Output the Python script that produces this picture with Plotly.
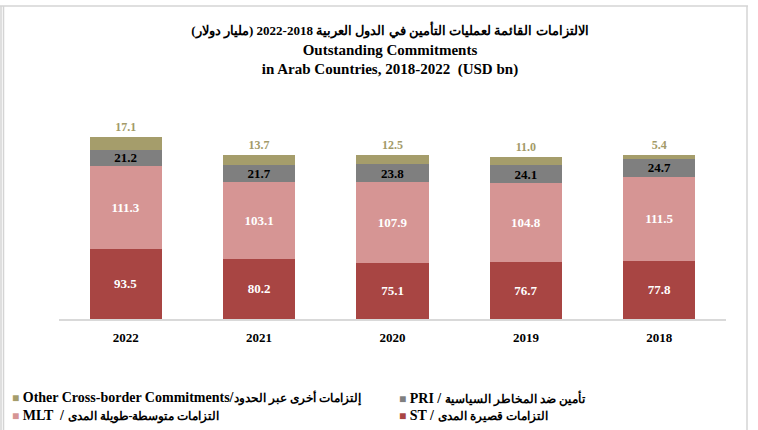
import plotly.graph_objects as go

years = ["2022", "2021", "2020", "2019", "2018"]
st = [93.5, 80.2, 75.1, 76.7, 77.8]
mlt = [111.3, 103.1, 107.9, 104.8, 111.5]
pri = [21.2, 21.7, 23.8, 24.1, 24.7]
other = [17.1, 13.7, 12.5, 11.0, 5.4]

# (latin part, arabic part) for each series
labels = {
    "st": ("ST / ", "التزامات قصيرة المدى"),
    "mlt": ("MLT  / ", "التزامات متوسطة-طويلة المدى"),
    "pri": ("PRI / ", "تأمين ضد المخاطر السياسية"),
    "other": ("Other Cross-border Commitments/", "إلتزامات أخرى عبر الحدود"),
}
colors = {"st": "#A84543", "mlt": "#D69594", "pri": "#7F7F7F", "other": "#A59D6B"}

SERIF = "Liberation Serif, Times New Roman, serif"
W, H = 758, 430
L, R, T, B = 59, 32, 100, 111
PW, PH = W - L - R, H - T - B
PX_PER_UNIT = 0.749


def px_x(px):
    return (px - L) / PW


def px_y(py):
    return (H - B - py) / PH


def ar(text, size):
    return f"<span style='font-size:{size}px'>{text}</span>"


fig = go.Figure()

series = [("st", st, "white"), ("mlt", mlt, "white"), ("pri", pri, "black")]
for key, vals, tcolor in series:
    fig.add_trace(go.Bar(
        x=years, y=vals, name=labels[key][0] + labels[key][1],
        marker=dict(color=colors[key], line=dict(width=0)),
        text=[f"{v:.1f}" for v in vals],
        textposition="inside", insidetextanchor="middle",
        constraintext="none",
        textfont=dict(family=SERIF, size=13, color=tcolor, weight="bold"),
    ))

fig.add_trace(go.Bar(
    x=years, y=other, name=labels["other"][0] + labels["other"][1],
    marker=dict(color=colors["other"], line=dict(width=0)),
    text=[f"{v:.1f}" for v in other],
    textposition="outside", constraintext="none", cliponaxis=False,
    textfont=dict(family=SERIF, size=12, color="#A39A68", weight="bold"),
))

# legend drawn as text rows, two columns
legend_pos = [("other", 10, 398), ("pri", 397, 398), ("mlt", 10, 416), ("st", 397, 416)]
for key, lx, ly in legend_pos:
    latin, arabic = labels[key]
    fig.add_annotation(
        xref="paper", yref="paper", x=px_x(lx), y=px_y(ly),
        xanchor="left", yanchor="middle", showarrow=False,
        text=f"<span style='color:{colors[key]};font-size:12px'>■</span> "
             f"{latin}{ar(arabic, 12)}",
        font=dict(family=SERIF, size=14, color="black", weight="bold"),
    )

# frame around the chart
frame = dict(type="line", xref="paper", yref="paper",
             line=dict(color="#D4D4D4", width=1.5))
fig.add_shape(**frame, x0=px_x(0), x1=px_x(748), y0=px_y(6), y1=px_y(6))
fig.add_shape(**frame, x0=px_x(1), x1=px_x(1), y0=px_y(6), y1=px_y(432))
fig.add_shape(**frame, x0=px_x(3.5), x1=px_x(3.5), y0=px_y(6), y1=px_y(432))
fig.add_shape(**frame, x0=px_x(747), x1=px_x(747), y0=px_y(6), y1=px_y(432))

fig.update_layout(
    width=W, height=H,
    margin=dict(l=L, r=R, t=T, b=B),
    paper_bgcolor="white", plot_bgcolor="white",
    barmode="stack", bargap=0.46,
    showlegend=False,
    title=dict(
        text=ar("الالتزامات القائمة لعمليات التأمين في الدول العربية 2018-2022 (مليار دولار)", 13)
             + "<br>Outstanding Commitments<br>in Arab Countries, 2018-2022  (USD bn)",
        x=390 / W, xanchor="center", xref="container",
        y=1 - 35 / H, yanchor="top", yref="container",
        font=dict(family=SERIF, size=15, color="black", weight="bold"),
    ),
    xaxis=dict(
        type="category", categoryorder="array", categoryarray=years,
        showline=True, linecolor="#D9D9D9", linewidth=2,
        ticks="", showgrid=False,
        tickfont=dict(family=SERIF, size=13, color="black", weight="bold"),
        ticklabelstandoff=5,
    ),
    yaxis=dict(range=[0, PH / PX_PER_UNIT], visible=False, showgrid=False),
)

fig.write_html("out.html", config={"displayModeBar": False},
               post_script="document.body.style.margin='0';")
